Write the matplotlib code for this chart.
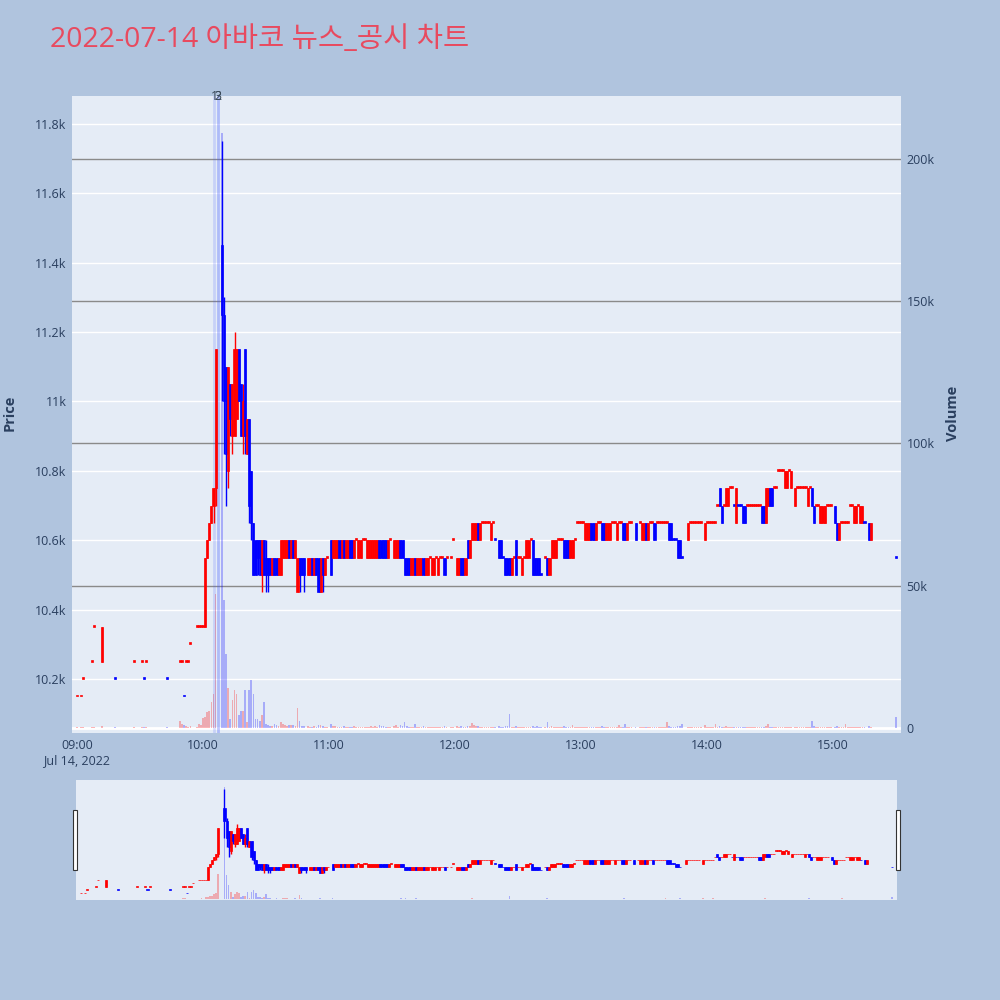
import matplotlib
matplotlib.use("Agg")
import matplotlib.pyplot as plt
from matplotlib.patches import Rectangle
from matplotlib.transforms import blended_transform_factory

plt.rcParams['font.family'] = ['Open Sans', 'Noto Sans CJK KR', 'DejaVu Sans']

title = "2022-07-14 아바코 뉴스_공시 차트"

# minutes after 09:00 for each 1-minute candle
minute = [0, 2, 3, 7, 8, 12, 18, 27, 31, 32, 33, 43, 49, 50, 51, 52, 53, 54, 57, 58,
          59, 60, 61, 62, 63, 64, 65, 66,
          69, 70, 71, 72, 73, 74, 75, 76, 77, 78,
          79, 80, 81, 82, 83, 84, 85, 86, 87, 88,
          89, 90, 91, 92, 93, 94, 95, 96, 97, 98,
          99, 100, 101, 102, 103, 104, 105, 106, 107, 108,
          110, 111, 112, 113, 114, 115, 116, 117, 118, 119,
          121, 122, 123, 124, 125, 126, 127, 128, 129, 130,
          131, 132, 133, 134, 135, 136, 137, 138, 139, 140,
          141, 142, 143, 144, 145, 146, 147, 148, 149, 151,
          152, 153, 154, 155, 156, 157, 158, 159, 160, 161,
          162, 163, 164, 165, 166, 167, 168, 169, 170, 171,
          172, 173, 174, 175, 176, 178, 179, 181, 182, 183,
          184, 185, 186, 187, 188, 189, 190, 191, 192, 193,
          194, 195, 196, 197, 198, 199, 201, 202, 203, 204,
          205, 206, 207, 208, 209, 210, 211, 212, 213, 214,
          215, 216, 217, 218, 219, 220, 221, 223, 224, 225,
          226, 227, 228, 229, 230, 231, 232, 233, 234, 235,
          236, 237, 238, 239, 240, 241, 242, 243, 244, 245,
          246, 247, 248, 249, 250, 251, 252, 253, 254, 255,
          256, 257, 258, 259, 260, 261, 262, 263, 264, 266,
          268, 269, 270, 271, 272, 273, 274, 275, 276, 277,
          278, 279, 280, 281, 282, 283, 284, 285, 286, 287,
          288, 291, 292, 293, 294, 295, 296, 297, 299, 300,
          301, 302, 303, 304, 305, 306, 307, 308, 309, 310,
          311, 312, 313, 314, 315, 316, 317, 318, 319, 320,
          321, 322, 323, 324, 325, 326, 327, 328, 329, 330,
          331, 332, 333, 334, 335, 336, 337, 338, 339, 340,
          342, 343, 344, 345, 346, 347, 348, 349, 350, 351,
          352, 353, 354, 355, 356, 357, 358, 359, 361, 362,
          363, 364, 365, 366, 367, 368, 369, 370, 371, 372,
          373, 374, 375, 377, 378, 390]

open_ = [10150, 10150, 10200, 10250, 10350, 10250, 10200, 10250, 10250, 10200, 10250, 10200, 10250, 10250, 10150, 10250, 10250, 10300, 10350, 10350,
         10350, 10350, 10350, 10550, 10600, 10650, 10700, 10750,
         11450, 11250, 11100, 10800, 11050, 10900, 10900, 10950, 11150, 11050,
         10900, 11150, 10850, 10950, 10800, 10650, 10600, 10600, 10600, 10500,
         10600, 10550, 10550, 10550, 10500, 10550, 10550, 10500, 10500, 10550,
         10550, 10550, 10600, 10550, 10600, 10550, 10450, 10550, 10550, 10550,
         10500, 10500, 10550, 10500, 10550, 10550, 10450, 10550, 10500, 10550,
         10600, 10550, 10550, 10550, 10600, 10550, 10600, 10550, 10550, 10600,
         10600, 10550, 10600, 10550, 10550, 10600, 10600, 10550, 10550, 10550,
         10550, 10550, 10550, 10600, 10600, 10600, 10600, 10550, 10600, 10550,
         10550, 10550, 10600, 10600, 10550, 10550, 10550, 10500, 10500, 10550,
         10500, 10500, 10500, 10550, 10500, 10500, 10550, 10500, 10500, 10550,
         10500, 10550, 10550, 10550, 10550, 10550, 10600, 10500, 10500, 10550,
         10550, 10500, 10600, 10550, 10600, 10600, 10600, 10650, 10600, 10650,
         10650, 10650, 10650, 10600, 10650, 10600, 10600, 10600, 10550, 10550,
         10550, 10550, 10500, 10550, 10600, 10550, 10550, 10500, 10550, 10550,
         10550, 10600, 10600, 10550, 10550, 10550, 10500, 10550, 10550, 10500,
         10550, 10550, 10550, 10600, 10600, 10600, 10600, 10600, 10600, 10550,
         10550, 10600, 10650, 10650, 10650, 10650, 10600, 10600, 10600, 10650,
         10650, 10600, 10650, 10650, 10650, 10650, 10600, 10600, 10600, 10650,
         10650, 10600, 10650, 10650, 10650, 10650, 10600, 10650, 10650, 10650,
         10650, 10600, 10600, 10650, 10600, 10650, 10650, 10650, 10650, 10650,
         10650, 10650, 10650, 10650, 10650, 10650, 10600, 10600, 10600, 10600,
         10550, 10600, 10650, 10650, 10650, 10650, 10650, 10650, 10600, 10650,
         10650, 10650, 10650, 10650, 10700, 10750, 10700, 10700, 10700, 10700,
         10750, 10750, 10700, 10650, 10700, 10700, 10700, 10700, 10700, 10700,
         10700, 10700, 10700, 10700, 10700, 10700, 10700, 10650, 10700, 10750,
         10750, 10750, 10750, 10800, 10800, 10800, 10750, 10750, 10800, 10750,
         10700, 10750, 10750, 10750, 10750, 10750, 10700, 10750, 10750, 10700,
         10700, 10700, 10650, 10650, 10650, 10700, 10700, 10700, 10700, 10650,
         10600, 10650, 10650, 10650, 10650, 10700, 10700, 10650, 10650, 10700,
         10650, 10650, 10650, 10650, 10600, 10550]

high = [10150, 10150, 10200, 10250, 10350, 10350, 10200, 10250, 10250, 10200, 10250, 10200, 10250, 10250, 10150, 10250, 10250, 10300, 10350, 10350,
        10350, 10350, 10550, 10600, 10650, 10700, 10750, 11150,
        11750, 11300, 11100, 11100, 11050, 11050, 11200, 11150, 11150, 11050,
        11050, 11150, 10950, 10950, 10800, 10650, 10600, 10600, 10600, 10600,
        10600, 10600, 10550, 10550, 10550, 10550, 10550, 10550, 10600, 10600,
        10600, 10600, 10600, 10600, 10600, 10600, 10550, 10550, 10550, 10550,
        10550, 10550, 10550, 10550, 10550, 10550, 10550, 10550, 10550, 10550,
        10600, 10600, 10600, 10600, 10600, 10600, 10600, 10600, 10600, 10600,
        10600, 10600, 10600, 10600, 10600, 10600, 10600, 10600, 10600, 10600,
        10600, 10600, 10600, 10600, 10600, 10600, 10600, 10600, 10600, 10600,
        10600, 10600, 10600, 10600, 10550, 10550, 10550, 10550, 10550, 10550,
        10550, 10550, 10550, 10550, 10550, 10550, 10550, 10550, 10550, 10550,
        10550, 10550, 10550, 10550, 10550, 10550, 10600, 10550, 10550, 10550,
        10550, 10550, 10600, 10600, 10650, 10650, 10650, 10650, 10650, 10650,
        10650, 10650, 10650, 10650, 10650, 10600, 10600, 10600, 10550, 10550,
        10550, 10550, 10550, 10550, 10600, 10550, 10550, 10550, 10550, 10600,
        10600, 10600, 10600, 10550, 10550, 10550, 10500, 10550, 10550, 10550,
        10600, 10600, 10600, 10600, 10600, 10600, 10600, 10600, 10600, 10600,
        10600, 10600, 10650, 10650, 10650, 10650, 10650, 10650, 10650, 10650,
        10650, 10650, 10650, 10650, 10650, 10650, 10650, 10650, 10650, 10650,
        10650, 10650, 10650, 10650, 10650, 10650, 10650, 10650, 10650, 10650,
        10650, 10650, 10650, 10650, 10650, 10650, 10650, 10650, 10650, 10650,
        10650, 10650, 10650, 10650, 10650, 10650, 10600, 10600, 10600, 10600,
        10550, 10650, 10650, 10650, 10650, 10650, 10650, 10650, 10650, 10650,
        10650, 10650, 10650, 10650, 10700, 10750, 10700, 10700, 10750, 10750,
        10750, 10750, 10700, 10750, 10700, 10700, 10700, 10700, 10700, 10700,
        10700, 10700, 10700, 10700, 10700, 10700, 10700, 10750, 10750, 10750,
        10750, 10750, 10750, 10800, 10800, 10800, 10800, 10800, 10800, 10800,
        10750, 10750, 10750, 10750, 10750, 10750, 10750, 10750, 10750, 10700,
        10700, 10700, 10700, 10700, 10700, 10700, 10700, 10700, 10700, 10650,
        10650, 10650, 10650, 10650, 10650, 10700, 10700, 10700, 10700, 10700,
        10700, 10700, 10650, 10650, 10650, 10550]

low = [10150, 10150, 10200, 10250, 10350, 10250, 10200, 10250, 10250, 10200, 10250, 10200, 10250, 10250, 10150, 10250, 10250, 10300, 10350, 10350,
       10350, 10350, 10350, 10550, 10600, 10650, 10650, 10700,
       11000, 10850, 10700, 10750, 10900, 10850, 10900, 10950, 11000, 10900,
       10850, 10850, 10850, 10650, 10600, 10500, 10500, 10500, 10500, 10450,
       10500, 10450, 10450, 10500, 10500, 10500, 10500, 10500, 10500, 10550,
       10550, 10550, 10550, 10550, 10550, 10550, 10450, 10450, 10500, 10450,
       10500, 10500, 10500, 10500, 10500, 10450, 10450, 10450, 10500, 10550,
       10500, 10550, 10550, 10550, 10550, 10550, 10550, 10550, 10550, 10550,
       10550, 10550, 10600, 10550, 10550, 10600, 10600, 10550, 10550, 10550,
       10550, 10550, 10550, 10550, 10550, 10550, 10550, 10550, 10600, 10550,
       10550, 10550, 10550, 10550, 10500, 10500, 10500, 10500, 10500, 10500,
       10500, 10500, 10500, 10500, 10500, 10500, 10550, 10500, 10500, 10550,
       10500, 10550, 10550, 10500, 10550, 10550, 10600, 10500, 10500, 10500,
       10500, 10500, 10550, 10550, 10600, 10600, 10600, 10600, 10600, 10650,
       10650, 10650, 10650, 10600, 10650, 10600, 10550, 10550, 10550, 10500,
       10500, 10500, 10500, 10550, 10500, 10550, 10550, 10500, 10550, 10550,
       10550, 10600, 10500, 10500, 10500, 10500, 10500, 10550, 10500, 10500,
       10550, 10550, 10550, 10600, 10600, 10600, 10550, 10550, 10550, 10550,
       10550, 10600, 10650, 10650, 10650, 10650, 10600, 10600, 10600, 10600,
       10600, 10600, 10650, 10650, 10600, 10600, 10600, 10600, 10600, 10650,
       10650, 10600, 10650, 10650, 10600, 10600, 10600, 10650, 10650, 10600,
       10650, 10600, 10600, 10600, 10600, 10650, 10650, 10600, 10650, 10650,
       10650, 10650, 10650, 10650, 10600, 10600, 10600, 10600, 10550, 10550,
       10550, 10600, 10650, 10650, 10650, 10650, 10650, 10650, 10600, 10650,
       10650, 10650, 10650, 10650, 10700, 10700, 10650, 10700, 10700, 10700,
       10750, 10750, 10700, 10650, 10700, 10700, 10650, 10650, 10700, 10700,
       10700, 10700, 10700, 10700, 10700, 10650, 10650, 10650, 10700, 10700,
       10700, 10750, 10750, 10800, 10800, 10800, 10750, 10750, 10800, 10750,
       10700, 10750, 10750, 10750, 10750, 10750, 10700, 10750, 10700, 10650,
       10700, 10700, 10650, 10650, 10650, 10700, 10700, 10700, 10650, 10600,
       10600, 10650, 10650, 10650, 10650, 10700, 10700, 10650, 10650, 10700,
       10650, 10650, 10650, 10600, 10600, 10550]

close = [10150, 10150, 10200, 10250, 10350, 10350, 10200, 10250, 10250, 10200, 10250, 10200, 10250, 10250, 10150, 10250, 10250, 10300, 10350, 10350,
         10350, 10350, 10550, 10600, 10650, 10700, 10750, 11150,
         11250, 11000, 10850, 11100, 10950, 11050, 11150, 11150, 11000, 10900,
         11000, 10900, 10950, 10700, 10650, 10500, 10500, 10550, 10500, 10600,
         10500, 10500, 10500, 10500, 10550, 10500, 10500, 10550, 10600, 10600,
         10600, 10600, 10550, 10600, 10550, 10600, 10550, 10500, 10500, 10500,
         10550, 10550, 10500, 10550, 10500, 10450, 10550, 10500, 10550, 10550,
         10500, 10600, 10600, 10600, 10550, 10600, 10550, 10600, 10600, 10550,
         10550, 10600, 10600, 10600, 10600, 10600, 10600, 10600, 10600, 10600,
         10600, 10600, 10600, 10550, 10550, 10550, 10550, 10600, 10600, 10600,
         10600, 10600, 10550, 10550, 10500, 10500, 10500, 10550, 10550, 10500,
         10550, 10550, 10550, 10500, 10550, 10550, 10550, 10550, 10550, 10550,
         10550, 10550, 10550, 10500, 10550, 10550, 10600, 10550, 10550, 10500,
         10500, 10550, 10550, 10600, 10650, 10650, 10650, 10600, 10650, 10650,
         10650, 10650, 10650, 10650, 10650, 10600, 10550, 10550, 10550, 10500,
         10500, 10500, 10550, 10550, 10500, 10550, 10550, 10550, 10550, 10600,
         10600, 10600, 10500, 10500, 10500, 10500, 10500, 10550, 10500, 10550,
         10600, 10600, 10600, 10600, 10600, 10600, 10550, 10550, 10550, 10600,
         10600, 10600, 10650, 10650, 10650, 10650, 10650, 10650, 10650, 10600,
         10600, 10650, 10650, 10650, 10600, 10600, 10650, 10650, 10650, 10650,
         10650, 10650, 10650, 10650, 10600, 10600, 10650, 10650, 10650, 10600,
         10650, 10650, 10650, 10600, 10650, 10650, 10650, 10600, 10650, 10650,
         10650, 10650, 10650, 10650, 10600, 10600, 10600, 10600, 10550, 10550,
         10550, 10650, 10650, 10650, 10650, 10650, 10650, 10650, 10650, 10650,
         10650, 10650, 10650, 10650, 10700, 10700, 10650, 10700, 10750, 10750,
         10750, 10750, 10700, 10750, 10700, 10700, 10650, 10650, 10700, 10700,
         10700, 10700, 10700, 10700, 10700, 10650, 10650, 10750, 10750, 10700,
         10700, 10750, 10750, 10800, 10800, 10800, 10800, 10800, 10800, 10800,
         10750, 10750, 10750, 10750, 10750, 10750, 10750, 10750, 10700, 10650,
         10700, 10700, 10700, 10700, 10700, 10700, 10700, 10700, 10650, 10600,
         10650, 10650, 10650, 10650, 10650, 10700, 10700, 10700, 10700, 10700,
         10700, 10700, 10650, 10600, 10650, 10550]

volume = [300, 200, 400, 300, 500, 800, 200, 200, 200, 300, 200, 500, 2500, 1500, 1000, 800, 300, 600, 400, 1500,
          1000, 3500, 4000, 5500, 6000, 9000, 12000, 47000,
          209000, 45000, 26000, 14000, 3000, 10000, 13500, 12000, 4500, 6000,
          6000, 13500, 2000, 13500, 17000, 12000, 3000, 3000, 2500, 4500,
          9000, 1500, 1200, 800, 600, 1500, 1000, 800, 2000, 1500,
          1200, 800, 1000, 900, 1200, 700, 7000, 2500, 800, 600,
          600, 500, 500, 700, 400, 1200, 1000, 800, 500, 300,
          1500, 800, 600, 500, 500, 400, 600, 500, 400, 500,
          400, 600, 300, 500, 400, 300, 200, 400, 300, 800,
          500, 600, 500, 900, 700, 600, 500, 400, 200, 600,
          900, 500, 1200, 800, 2000, 600, 500, 400, 500, 1500,
          400, 500, 300, 600, 400, 300, 200, 400, 500, 200,
          300, 200, 300, 800, 200, 300, 400, 600, 500, 700,
          400, 500, 600, 800, 1800, 900, 600, 700, 500, 300,
          200, 300, 200, 400, 200, 300, 600, 500, 200, 700,
          800, 5000, 400, 200, 600, 300, 200, 400, 200, 500,
          400, 200, 700, 500, 600, 400, 200, 300, 2000, 500,
          600, 500, 400, 200, 300, 200, 600, 500, 400, 500,
          1000, 200, 300, 200, 200, 300, 500, 400, 500, 400,
          300, 400, 200, 300, 600, 500, 400, 500, 400, 200,
          200, 300, 1000, 200, 500, 1500, 400, 200, 300, 400,
          200, 500, 400, 300, 400, 200, 200, 500, 200, 300,
          200, 200, 300, 2000, 600, 500, 200, 300, 700, 600,
          1500, 500, 200, 300, 200, 200, 300, 200, 1200, 200,
          300, 200, 200, 1500, 400, 700, 500, 200, 600, 400,
          200, 200, 300, 500, 200, 300, 500, 400, 200, 300,
          200, 200, 300, 200, 200, 500, 400, 600, 1400, 500,
          400, 200, 300, 300, 200, 200, 500, 400, 200, 400,
          500, 200, 300, 200, 200, 300, 400, 200, 2500, 600,
          300, 200, 400, 500, 300, 200, 300, 200, 500, 600,
          400, 200, 300, 1500, 200, 300, 200, 400, 300, 200,
          400, 500, 200, 600, 500, 4000]

# news / disclosure markers
news_minute = [65.3, 67.2, 67.2]
news_label = ["1", "2", "3"]

price_ticks = [10200, 10400, 10600, 10800, 11000, 11200, 11400, 11600, 11800]
price_labels = ["10.2k", "10.4k", "10.6k", "10.8k", "11k", "11.2k", "11.4k", "11.6k", "11.8k"]
vol_ticks = [0, 50000, 100000, 150000, 200000]
vol_labels = ["0", "50k", "100k", "150k", "200k"]
time_ticks = [0, 60, 120, 180, 240, 300, 360]
time_labels = ["09:00\nJul 14, 2022", "10:00", "11:00", "12:00", "13:00", "14:00", "15:00"]

# candle direction (plotly style: flat candles compare with previous close)
up = []
prev_c = None
prev_up = True
for o, c in zip(open_, close):
    if c > o:
        u = True
    elif c < o:
        u = False
    elif prev_c is None:
        u = True
    elif c > prev_c:
        u = True
    elif c < prev_c:
        u = False
    else:
        u = prev_up
    up.append(u)
    prev_c = c
    prev_up = u

RED = '#FF0000'
BLUE = '#0000FF'
cols = [RED if u else BLUE for u in up]
vcols = [(1, 0, 0, 0.28) if u else (0, 0, 1, 0.27) for u in up]
body_bottom = [min(o, c) for o, c in zip(open_, close)]
body_h = [max(abs(c - o), 5) for o, c in zip(open_, close)]

BG = '#E5ECF6'
PAPER = '#B0C4DE'
TXT = '#2a3f5f'
XLIM = (-2.4, 392.4)
PLIM = (10044, 11881)
VLIM = (-1760, 222100)


def draw(ax_v, ax_p, grid):
    ax_v.set_facecolor(BG)
    ax_v.bar(minute, volume, width=0.8, color=vcols, linewidth=0, zorder=2)
    if grid:
        for t in vol_ticks[1:]:
            ax_v.axhline(t, color='#8a8a8a', lw=1.0, zorder=1)
        tr = blended_transform_factory(ax_v.transAxes, ax_p.transData)
        for t in price_ticks:
            ax_v.plot([0, 1], [t, t], color='white', lw=1.0, transform=tr, zorder=1)
        ax_v.axhline(0, color='white', lw=2, zorder=1.5)
    ax_p.patch.set_visible(False)
    ax_p.vlines(minute, low, high, colors=cols, lw=1.0, zorder=3)
    ax_p.bar(minute, body_h, bottom=body_bottom, width=1.0, color=cols,
             edgecolor=cols, linewidth=0.5, zorder=4)
    ax_v.set_xlim(*XLIM)
    ax_v.set_ylim(*VLIM)
    ax_p.set_ylim(*PLIM)
    for a in (ax_v, ax_p):
        for s in a.spines.values():
            s.set_visible(False)


fig = plt.figure(figsize=(10, 10), dpi=100)
fig.patch.set_facecolor(PAPER)

# main chart
ax_v = fig.add_axes([0.072, 0.267, 0.829, 0.637])
ax_p = ax_v.twinx()
draw(ax_v, ax_p, True)

ax_v.yaxis.tick_right()
ax_v.set_yticks(vol_ticks)
ax_v.set_yticklabels(vol_labels)
ax_p.yaxis.tick_left()
ax_p.set_yticks(price_ticks)
ax_p.set_yticklabels(price_labels)
ax_v.set_xticks(time_ticks)
ax_v.set_xticklabels(time_labels, linespacing=1.3)
ax_v.tick_params(axis='x', length=0, pad=4, labelsize=9, labelcolor=TXT)
ax_v.tick_params(axis='y', length=0, pad=4, labelsize=9, labelcolor=TXT)
ax_p.tick_params(axis='y', length=0, pad=4, labelsize=9, labelcolor=TXT)

for m in news_minute:
    ax_p.axvline(m, color=(0.25, 0.35, 1.0, 0.18), lw=2.0, zorder=2.5)
label_tr = blended_transform_factory(ax_p.transData, ax_p.transAxes)
for m, lab in zip(news_minute, news_label):
    ax_p.text(m, 1.0, lab, transform=label_tr, ha='center', va='center',
              fontsize=9, color='#3a4a5a', clip_on=False, zorder=6)

# range slider
ax_sv = fig.add_axes([0.076, 0.100, 0.821, 0.120])
ax_sp = ax_sv.twinx()
draw(ax_sv, ax_sp, False)
for a in (ax_sv, ax_sp):
    a.set_xticks([])
    a.set_yticks([])
for x0 in (0.0733, 0.8955):
    fig.patches.append(Rectangle((x0, 0.130), 0.004, 0.060, transform=fig.transFigure,
                                 facecolor='white', edgecolor='#333333', lw=0.8, zorder=10))

fig.text(0.050, 0.960, title, fontsize=20.5, color='#E84A5F', ha='left', va='center')
fig.text(0.010, 0.587, 'Price', rotation=90, fontsize=10.5, fontweight='bold',
         color=TXT, ha='center', va='center')
fig.text(0.953, 0.587, 'Volume', rotation=90, fontsize=10.5, fontweight='bold',
         color=TXT, ha='center', va='center')

fig.savefig('out.png', dpi=100, facecolor=PAPER)
